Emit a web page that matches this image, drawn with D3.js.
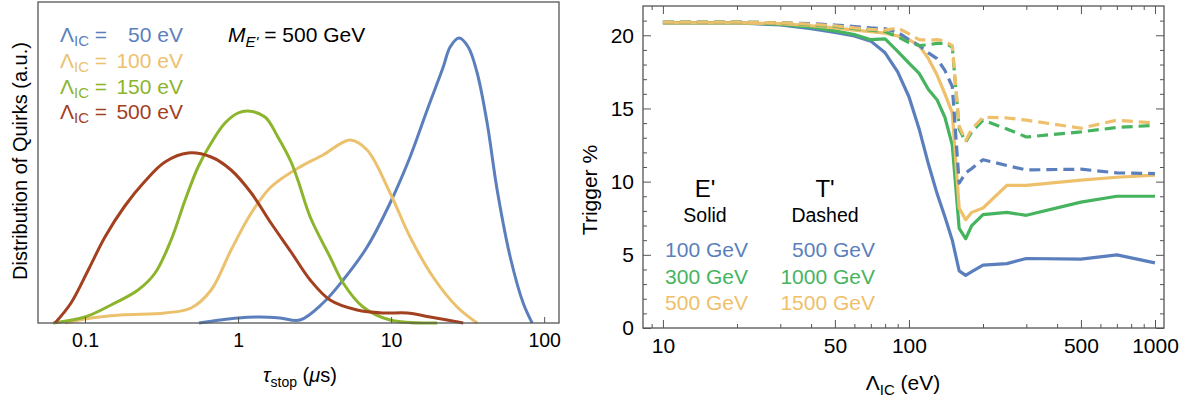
<!DOCTYPE html>
<html>
<head>
<meta charset="utf-8">
<script src="https://cdn.jsdelivr.net/npm/d3@7"></script>
<style>
  body { margin: 0; background: #fff; }
  svg { font-family: "Liberation Sans", Arial, sans-serif; }
  .tick text { fill: #000; }
</style>
</head>
<body>
<svg width="1190" height="402"></svg>
<script>
// ---- left panel: stopping time distributions (a.u.) ----
const tau50 = [0.556, 0.762, 1.0, 1.39, 1.88, 2.54, 3.59, 4.86, 6.97, 9.85, 13.3, 17.2, 21.9, 24.3, 27.8, 31.9, 36.5, 42.4, 49.3, 60.0, 72.9, 83.5];
const dist50 = [0, 0.03, 0.05, 0.06, 0.05, 0.03, 0.20, 0.43, 0.76, 1.20, 1.66, 2.13, 2.56, 2.76, 2.85, 2.76, 2.50, 2.00, 1.33, 0.66, 0.20, 0];
const tau100 = [0.074, 0.1, 0.172, 0.333, 0.493, 0.667, 0.90, 1.22, 1.64, 2.47, 3.59, 5.4, 6.97, 9.85, 13.3, 18.8, 27, 36.5];
const dist100 = [0, 0.04, 0.08, 0.10, 0.15, 0.33, 0.73, 1.10, 1.36, 1.55, 1.68, 1.83, 1.73, 1.30, 0.86, 0.46, 0.16, 0];
const tau150 = [0.0618, 0.1, 0.148, 0.222, 0.287, 0.365, 0.451, 0.548, 0.667, 0.822, 1.0, 1.16, 1.50, 1.82, 2.22, 2.47, 2.96, 3.99, 4.86, 6.56, 9.85, 20];
const dist150 = [0, 0.06, 0.18, 0.33, 0.50, 0.83, 1.23, 1.56, 1.80, 2.00, 2.10, 2.12, 2.06, 1.86, 1.61, 1.42, 1.06, 0.66, 0.40, 0.16, 0.03, 0];
const tau500 = [0.0637, 0.081, 0.105, 0.135, 0.182, 0.247, 0.333, 0.471, 0.667, 0.90, 1.22, 1.64, 2.22, 2.96, 3.99, 6.0, 8.87, 12.7, 18, 29.6];
const dist500 = [0, 0.20, 0.53, 0.86, 1.17, 1.42, 1.61, 1.70, 1.66, 1.53, 1.30, 1.00, 0.71, 0.43, 0.23, 0.13, 0.10, 0.10, 0.06, 0];
const leftLegend = ['50', '100', '150', '500'];
const leftTicks = [0.1, 1, 10, 100];

// ---- right panel: trigger efficiency ----
const lambdaIC = [10, 15, 20, 30, 40, 50, 60, 70, 80, 90, 100, 110, 120, 130, 140, 150, 160, 170, 180, 200, 250, 300, 500, 700, 1000];
const solid100 = [20.85, 20.85, 20.85, 20.7, 20.45, 20.2, 19.95, 19.6, 18.8, 17.5, 15.8, 13.6, 11.2, 9.2, 7.6, 6.0, 3.9, 3.6, 3.85, 4.3, 4.4, 4.75, 4.7, 5.0, 4.45];
const solid300 = [20.85, 20.85, 20.85, 20.75, 20.55, 20.3, 20.05, 19.7, 19.75, 18.9, 18.1, 17.4, 16.3, 15.6, 14.4, 12.5, 6.8, 6.1, 7.0, 7.75, 7.9, 7.7, 8.6, 9.0, 9.0];
const solid500 = [20.85, 20.85, 20.85, 20.8, 20.65, 20.5, 20.35, 20.25, 20.15, 19.95, 19.7, 19.3, 18.4, 17.3, 16.0, 14.7, 8.2, 7.4, 7.9, 8.2, 9.75, 9.75, 10.1, 10.3, 10.45];
const dashed500 = [20.9, 20.9, 20.9, 20.85, 20.8, 20.7, 20.6, 20.5, 20.45, 20.2, 19.7, 19.3, 18.8, 18.4, 17.6, 16.5, 9.9, 10.6, 10.9, 11.5, 11.1, 10.8, 10.85, 10.6, 10.55];
const dashed1000 = [20.9, 20.9, 20.9, 20.85, 20.7, 20.6, 20.45, 20.35, 20.25, 19.9, 19.5, 19.3, 19.35, 19.45, 19.45, 19.2, 13.6, 12.7, 13.4, 14.2, 13.6, 13.05, 13.4, 13.7, 13.85];
const dashed1500 = [20.9, 20.9, 20.9, 20.85, 20.75, 20.65, 20.5, 20.4, 20.35, 20.5, 20.1, 19.7, 19.65, 19.7, 19.6, 19.3, 13.8, 12.8, 13.6, 14.4, 14.35, 14.2, 13.65, 14.2, 14.0];
const solidLabels = ['100 GeV', '300 GeV', '500 GeV'];
const dashedLabels = ['500 GeV', '1000 GeV', '1500 GeV'];
const xMajorR = [10, 50, 100, 500, 1000];
const xMinorR = [9, 20, 30, 40, 60, 70, 80, 90, 200, 300, 400, 600, 700, 800, 900];
const yMajorR = [0, 5, 10, 15, 20];

const svg = d3.select('svg');
const frameColor = '#555';
const leftColors = ['#5b7fbd', '#ecc16d', '#8db42d', '#a3401f'];
const rightColors = ['#5b7fbd', '#46b45f', '#efc06b'];

// ================= left panel =================
const L = { left: 38, right: 559, top: 2, bottom: 323 };
const xL = d3.scaleLog().domain([0.0493, 125]).range([L.left, L.right]);
const yL = d3.scaleLinear().domain([0, 3.21]).range([L.bottom, L.top]);

const lineL = d3.line()
    .x(d => xL(d[0]))
    .y(d => Math.min(L.bottom, yL(d[1])))
    .curve(d3.curveCatmullRom.alpha(0.5));

const leftSeries = [
    d3.zip(tau50, dist50),
    d3.zip(tau100, dist100),
    d3.zip(tau150, dist150),
    d3.zip(tau500, dist500)
];

const gL = svg.append('g');
gL.selectAll('path.curve').data(leftSeries)
    .enter().append('path')
        .attr('class', 'curve')
        .attr('d', lineL)
        .attr('fill', 'none')
        .attr('stroke', (d, i) => leftColors[i])
        .attr('stroke-width', 3);

gL.append('rect')
    .attr('x', L.left).attr('y', L.top)
    .attr('width', L.right - L.left).attr('height', L.bottom - L.top)
    .attr('fill', 'none').attr('stroke', frameColor).attr('stroke-width', 1.3);

const xAxisL = d3.axisBottom(xL)
    .tickValues(leftTicks)
    .tickFormat(d3.format('~g'))
    .tickSize(-6)
    .tickPadding(10);
gL.append('g')
    .attr('transform', `translate(0,${L.bottom})`)
    .call(xAxisL)
    .call(g => g.select('.domain').remove())
    .call(g => g.selectAll('line').attr('stroke', frameColor))
    .selectAll('text')
        .attr('font-size', 19.5)
        .attr('font-family', '"Liberation Sans", Arial, sans-serif');

// x label
const xLabL = gL.append('text')
    .attr('x', 300).attr('y', 382)
    .attr('text-anchor', 'middle')
    .attr('font-size', 20);
xLabL.append('tspan').text('τ').attr('font-style', 'italic');
xLabL.append('tspan').text('stop').attr('font-size', 14).attr('dy', 5);
xLabL.append('tspan').text(' (').attr('dy', -5);
xLabL.append('tspan').text('μ').attr('font-style', 'italic');
xLabL.append('tspan').text('s)');

// y label
gL.append('text')
    .attr('transform', 'translate(27,161) rotate(-90)')
    .attr('text-anchor', 'middle')
    .attr('font-size', 20)
    .text('Distribution of Quirks (a.u.)');

// legend
leftLegend.forEach((v, i) => {
    const y = 42 + i * 25.8;
    const t = gL.append('text')
        .attr('x', 60).attr('y', y)
        .attr('font-size', 21)
        .attr('fill', leftColors[i]);
    t.append('tspan').text('Λ');
    t.append('tspan').text('IC').attr('font-size', 15).attr('dy', 4);
    t.append('tspan').text(' =').attr('dy', -4);
    gL.append('text')
        .attr('x', 183).attr('y', y)
        .attr('text-anchor', 'end')
        .attr('font-size', 21)
        .attr('fill', leftColors[i])
        .text(v + ' eV');
});

const mLab = gL.append('text')
    .attr('x', 228).attr('y', 42)
    .attr('font-size', 21);
mLab.append('tspan').text('M').attr('font-style', 'italic');
mLab.append('tspan').text("E'").attr('font-style', 'italic').attr('font-size', 15).attr('dy', 5);
mLab.append('tspan').text(' = 500 GeV').attr('dy', -5);

// ================= right panel =================
const R = { left: 643, right: 1164, top: 6, bottom: 328 };
const xR = d3.scaleLog().domain([8.3, 1088]).range([R.left, R.right]);
const yR = d3.scaleLinear().domain([0, 22]).range([R.bottom, R.top]);

const lineR = d3.line()
    .x(d => xR(d[0]))
    .y(d => yR(d[1]));

const rightSeries = [
    { values: solid100, color: rightColors[0], dash: null },
    { values: solid300, color: rightColors[1], dash: null },
    { values: solid500, color: rightColors[2], dash: null },
    { values: dashed500, color: rightColors[0], dash: '11,6' },
    { values: dashed1000, color: rightColors[1], dash: '11,6' },
    { values: dashed1500, color: rightColors[2], dash: '11,6' }
];

const gR = svg.append('g');

rightSeries.forEach(s => {
    gR.append('path')
        .datum(d3.zip(lambdaIC, s.values))
        .attr('d', lineR)
        .attr('fill', 'none')
        .attr('stroke', s.color)
        .attr('stroke-width', 3.2)
        .attr('stroke-linejoin', 'round')
        .attr('stroke-dasharray', s.dash);
});

gR.append('rect')
    .attr('x', R.left).attr('y', R.top)
    .attr('width', R.right - R.left).attr('height', R.bottom - R.top)
    .attr('fill', 'none').attr('stroke', frameColor).attr('stroke-width', 1.3);

const tickStyle = g => {
    g.select('.domain').remove();
    g.selectAll('line').attr('stroke', frameColor);
    g.selectAll('text')
        .attr('font-size', 21)
        .attr('font-family', '"Liberation Sans", Arial, sans-serif');
};

// bottom / top major + minor
gR.append('g').attr('transform', `translate(0,${R.bottom})`)
    .call(d3.axisBottom(xR).tickValues(xMajorR).tickFormat(d3.format('d')).tickSize(-8).tickPadding(10))
    .call(tickStyle);
gR.append('g').attr('transform', `translate(0,${R.bottom})`)
    .call(d3.axisBottom(xR).tickValues(xMinorR).tickFormat('').tickSize(-4))
    .call(tickStyle);
gR.append('g').attr('transform', `translate(0,${R.top})`)
    .call(d3.axisTop(xR).tickValues(xMajorR).tickFormat('').tickSize(-8))
    .call(tickStyle);
gR.append('g').attr('transform', `translate(0,${R.top})`)
    .call(d3.axisTop(xR).tickValues(xMinorR).tickFormat('').tickSize(-4))
    .call(tickStyle);

// left / right
const yMinorR = d3.range(0, 22).filter(v => v % 5 !== 0);
gR.append('g').attr('transform', `translate(${R.left},0)`)
    .call(d3.axisLeft(yR).tickValues(yMajorR).tickSize(-8).tickPadding(9))
    .call(tickStyle);
gR.append('g').attr('transform', `translate(${R.left},0)`)
    .call(d3.axisLeft(yR).tickValues(yMinorR).tickFormat('').tickSize(-4))
    .call(tickStyle);
gR.append('g').attr('transform', `translate(${R.right},0)`)
    .call(d3.axisRight(yR).tickValues(yMajorR).tickFormat('').tickSize(-8))
    .call(tickStyle);
gR.append('g').attr('transform', `translate(${R.right},0)`)
    .call(d3.axisRight(yR).tickValues(yMinorR).tickFormat('').tickSize(-4))
    .call(tickStyle);

// axis labels
const xLabR = gR.append('text')
    .attr('x', 903).attr('y', 390)
    .attr('text-anchor', 'middle')
    .attr('font-size', 21);
xLabR.append('tspan').text('Λ');
xLabR.append('tspan').text('IC').attr('font-size', 15).attr('dy', 5);
xLabR.append('tspan').text(' (eV)').attr('dy', -5);

gR.append('text')
    .attr('transform', 'translate(597,190) rotate(-90)')
    .attr('text-anchor', 'middle')
    .attr('font-size', 21)
    .text('Trigger %');

// legend
gR.append('text').attr('x', 705).attr('y', 197).attr('text-anchor', 'middle')
    .attr('font-size', 24).text("E'");
gR.append('text').attr('x', 825).attr('y', 197).attr('text-anchor', 'middle')
    .attr('font-size', 24).text("T'");
gR.append('text').attr('x', 705).attr('y', 222).attr('text-anchor', 'middle')
    .attr('font-size', 19.5).text('Solid');
gR.append('text').attr('x', 825).attr('y', 222).attr('text-anchor', 'middle')
    .attr('font-size', 19.5).text('Dashed');

solidLabels.forEach((t, i) => {
    gR.append('text')
        .attr('x', 748).attr('y', 257 + i * 26.5)
        .attr('text-anchor', 'end')
        .attr('font-size', 21)
        .attr('fill', rightColors[i])
        .text(t);
});
dashedLabels.forEach((t, i) => {
    gR.append('text')
        .attr('x', 875).attr('y', 257 + i * 26.5)
        .attr('text-anchor', 'end')
        .attr('font-size', 21)
        .attr('fill', rightColors[i])
        .text(t);
});
</script>
</body>
</html>
